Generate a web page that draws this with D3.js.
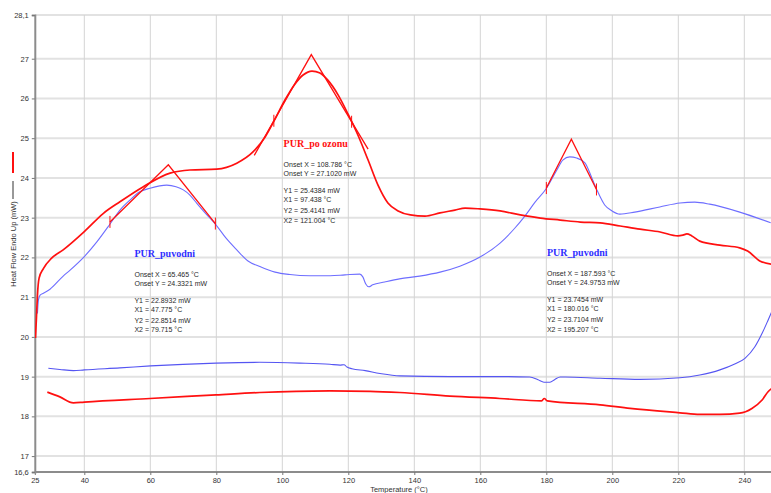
<!DOCTYPE html>
<html>
<head>
<meta charset="utf-8">
<script src="https://cdn.jsdelivr.net/npm/d3@7"></script>
<style>
  body { margin: 0; background: #fff; }
  svg { display: block; }
</style>
</head>
<body>
<svg id="chart" width="771" height="493"></svg>
<script>
// ---- DSC curves: temperature (°C) and heat flow (mW) ----
const ozonHeatT = [25.2, 25.5, 25.8, 26.3, 27.6, 30.1, 33.6, 40.0, 45.8, 50.8, 57.9, 66.0, 72.0, 80.1, 86.2, 91.2, 94.8, 97.8, 100.8, 103.8, 106.3, 109.0, 111.4, 113.8, 116.9, 119.9, 122.9, 126.0, 129.0, 132.0, 135.1, 138.8, 143.3, 147.8, 152.3, 155.4, 159.9, 166.0, 172.1, 178.2, 184.2, 190.3, 196.3, 202.4, 208.4, 214.5, 219.9, 221.4, 222.6, 224.1, 226.5, 232.6, 238.6, 241.0, 244.7, 248.3];
const ozonHeatY = [19.97, 20.48, 21.05, 21.48, 21.72, 21.98, 22.19, 22.65, 23.11, 23.40, 23.78, 24.12, 24.20, 24.22, 24.37, 24.66, 25.03, 25.48, 25.96, 26.36, 26.59, 26.69, 26.64, 26.46, 26.09, 25.61, 25.08, 24.45, 23.82, 23.37, 23.17, 23.07, 23.04, 23.12, 23.19, 23.24, 23.22, 23.17, 23.07, 22.99, 22.94, 22.89, 22.87, 22.79, 22.71, 22.64, 22.54, 22.56, 22.59, 22.54, 22.41, 22.31, 22.24, 22.16, 21.91, 21.83];

const puvHeatT = [25.8, 26.1, 26.6, 27.6, 29.6, 33.6, 35.7, 40.0, 43.8, 47.8, 50.8, 53.8, 56.8, 59.9, 65.0, 67.8, 70.0, 72.0, 74.1, 76.6, 79.9, 82.9, 86.2, 89.6, 93.2, 97.8, 102.3, 108.4, 114.5, 119.0, 123.5, 124.4, 125.3, 126.2, 127.4, 131.0, 135.5, 141.6, 147.8, 153.8, 159.9, 166.0, 170.5, 173.5, 176.6, 179.9, 183.2, 185.0, 187.1, 189.2, 191.7, 193.8, 195.6, 197.7, 199.9, 202.3, 206.8, 214.4, 220.5, 225.0, 229.5, 238.6, 248.0];
const puvHeatY = [20.59, 20.93, 21.05, 21.10, 21.20, 21.53, 21.68, 22.02, 22.39, 22.84, 23.19, 23.44, 23.65, 23.74, 23.82, 23.78, 23.70, 23.57, 23.36, 23.12, 22.82, 22.49, 22.19, 21.91, 21.77, 21.63, 21.57, 21.54, 21.54, 21.56, 21.58, 21.51, 21.33, 21.26, 21.31, 21.38, 21.46, 21.53, 21.63, 21.78, 22.01, 22.36, 22.74, 23.04, 23.39, 23.72, 24.20, 24.45, 24.53, 24.50, 24.38, 24.00, 23.65, 23.32, 23.17, 23.09, 23.14, 23.27, 23.37, 23.39, 23.34, 23.14, 22.87];

const puvBaseT = [29.1, 32.6, 36.7, 40.0, 50.8, 60.1, 79.9, 93.2, 105.3, 114.4, 117.5, 118.7, 119.6, 121.1, 125.1, 129.6, 135.6, 150.8, 165.9, 175.0, 177.5, 179.3, 181.1, 182.6, 184.2, 185.7, 196.3, 208.4, 220.5, 226.5, 232.6, 237.1, 240.2, 243.2, 245.4, 247.2, 248.4];
const puvBaseY = [19.21, 19.18, 19.15, 19.17, 19.22, 19.27, 19.34, 19.36, 19.34, 19.31, 19.29, 19.30, 19.24, 19.20, 19.15, 19.08, 19.02, 19.00, 19.00, 18.99, 18.92, 18.86, 18.86, 18.93, 18.99, 18.99, 18.96, 18.93, 18.97, 19.04, 19.17, 19.32, 19.46, 19.75, 20.09, 20.42, 20.65];

const ozonBaseT = [28.8, 32.6, 36.7, 40.0, 59.9, 79.9, 93.2, 114.4, 126.6, 135.6, 150.8, 165.9, 178.5, 179.4, 180.3, 196.3, 205.4, 220.5, 226.5, 232.6, 238.6, 242.3, 245.4, 247.2, 248.4];
const ozonBaseY = [18.61, 18.49, 18.34, 18.36, 18.45, 18.54, 18.60, 18.64, 18.63, 18.60, 18.51, 18.45, 18.39, 18.45, 18.39, 18.29, 18.20, 18.09, 18.05, 18.05, 18.08, 18.20, 18.41, 18.62, 18.71];

// ---- Peak onset analyses ----
const peakNames   = ["PUR_puvodni", "PUR_po ozonu", "PUR_puvodni"];
const peakOnsetX  = [65.465, 108.786, 187.593];
const peakOnsetY  = [24.3321, 27.1020, 24.9753];
const peakX1      = [47.775, 97.438, 180.016];
const peakY1      = [22.8932, 25.4384, 23.7454];
const peakX2      = [79.715, 121.004, 195.207];
const peakY2      = [22.8514, 25.4141, 23.7104];
// how far each tangent is drawn (°C)
const tangentFrom = [47.775, 91.5, 180.016];
const tangentTo   = [79.715, 126.0, 195.207];

// ---- Axis ticks ----
const xTickValues = [25, 40, 60, 80, 100, 120, 140, 160, 180, 200, 220, 240, 250];
const yTickValues = [16.6, 17, 18, 19, 20, 21, 22, 23, 24, 25, 26, 27, 28.1];

// ---- Layout ----
const svg = d3.select("#chart");
const x = d3.scaleLinear().domain([25, 250]).range([34.8, 777.3]);
const y = d3.scaleLinear().domain([16.6, 28.1]).range([472, 15]);

const RED = "#ff1010";
const BLUE_HEAT = "#6e6eff";
const BLUE_BASE = "#5555f2";
const TITLE_BLUE = "#2f2fff";
const TEXT = "#2a2a2a";

svg.append("defs").append("clipPath").attr("id", "plot")
  .append("rect").attr("x", 35).attr("y", 0).attr("width", 771 - 35).attr("height", 472);

// grid
const grid = svg.append("g");
grid.selectAll("line.h").data(yTickValues.filter(v => v > 16.6)).join("line")
  .attr("x1", x(25)).attr("x2", 771)
  .attr("y1", d => y(d)).attr("y2", d => y(d))
  .attr("stroke", "#e2e2e2").attr("stroke-width", 2);
grid.selectAll("line.v").data(xTickValues.filter(v => v > 25)).join("line")
  .attr("x1", d => x(d)).attr("x2", d => x(d))
  .attr("y1", y(28.1)).attr("y2", y(16.6))
  .attr("stroke", "#d4d4d4").attr("stroke-width", 1);

// axes
const fmtComma = d => String(d).replace(".", ",");
const xAxis = svg.append("g").attr("transform", `translate(0,${y(16.6)})`)
  .call(d3.axisBottom(x).tickValues(xTickValues).tickSize(3).tickPadding(3).tickFormat(d => String(d)));
const yAxis = svg.append("g").attr("transform", `translate(${x(25)},0)`)
  .call(d3.axisLeft(y).tickValues(yTickValues).tickSize(3).tickPadding(3).tickFormat(fmtComma));
[xAxis, yAxis].forEach(a => {
  a.select(".domain").attr("stroke", "#8c8c8c").attr("stroke-width", 2);
  a.selectAll(".tick line").attr("stroke", "#777");
  a.selectAll(".tick text").attr("fill", "#333")
    .style("font-family", "'Liberation Sans', Arial, sans-serif").style("font-size", "7.5px");
});
xAxis.select(".domain").attr("d", `M${x(25)},0H771`);

// axis titles
svg.append("text").attr("x", 399).attr("y", 492)
  .attr("text-anchor", "middle").attr("fill", "#333")
  .style("font-family", "'Liberation Sans', Arial, sans-serif").style("font-size", "7.5px")
  .text("Temperature (°C)");
svg.append("text").attr("transform", "translate(15.5,244) rotate(-90)")
  .attr("text-anchor", "middle").attr("fill", "#333")
  .style("font-family", "'Liberation Sans', Arial, sans-serif").style("font-size", "7.5px")
  .text("Heat Flow Endo Up (mW)");
svg.append("line").attr("x1", 13).attr("x2", 13).attr("y1", 181).attr("y2", 199)
  .attr("stroke", "#333").attr("stroke-width", 1);
svg.append("line").attr("x1", 13).attr("x2", 13).attr("y1", 152).attr("y2", 173)
  .attr("stroke", RED).attr("stroke-width", 2);

// curves
const plot = svg.append("g").attr("clip-path", "url(#plot)");
const line = d3.line().x(d => x(d[0])).y(d => y(d[1])).curve(d3.curveMonotoneX);
const zip = (a, b) => a.map((v, i) => [v, b[i]]);
const curves = [
  { pts: zip(puvBaseT, puvBaseY), color: BLUE_BASE, w: 1.1 },
  { pts: zip(ozonBaseT, ozonBaseY), color: RED, w: 1.7 },
  { pts: zip(puvHeatT, puvHeatY), color: BLUE_HEAT, w: 1.1 },
  { pts: zip(ozonHeatT, ozonHeatY), color: RED, w: 1.7 }
];
plot.selectAll("path.curve").data(curves).join("path")
  .attr("class", "curve").attr("d", d => line(d.pts))
  .attr("fill", "none").attr("stroke", d => d.color).attr("stroke-width", d => d.w)
  .attr("stroke-linejoin", "round");

// tangent construction for each onset
const tang = plot.append("g");
peakOnsetX.forEach((ox, i) => {
  const oy = peakOnsetY[i];
  const sL = (oy - peakY1[i]) / (ox - peakX1[i]);
  const sR = (peakY2[i] - oy) / (peakX2[i] - ox);
  const a = [tangentFrom[i], oy + sL * (tangentFrom[i] - ox)];
  const b = [tangentTo[i], oy + sR * (tangentTo[i] - ox)];
  tang.append("path")
    .attr("d", d3.line().x(d => x(d[0])).y(d => y(d[1]))([a, [ox, oy], b]))
    .attr("fill", "none").attr("stroke", RED).attr("stroke-width", 1.3);
  [[peakX1[i], peakY1[i]], [peakX2[i], peakY2[i]]].forEach(p => {
    tang.append("line")
      .attr("x1", x(p[0])).attr("x2", x(p[0]))
      .attr("y1", y(p[1]) - 6).attr("y2", y(p[1]) + 6)
      .attr("stroke", RED).attr("stroke-width", 1);
  });
});

// result blocks
const blockAnchorT = [55.2, 100.4, 180.2];
const blockAnchorY = [22.11, 24.87, 22.13];
const fmt3 = d3.format(".3f"), fmt4 = d3.format(".4f");
peakNames.forEach((name, i) => {
  const bx = x(blockAnchorT[i]), by = y(blockAnchorY[i]);
  const isRed = name === "PUR_po ozonu";
  svg.append("text").attr("x", bx).attr("y", by + 3.5)
    .attr("fill", isRed ? RED : TITLE_BLUE)
    .style("font-family", "'Liberation Serif', 'Times New Roman', serif")
    .style("font-weight", "bold").style("font-size", "10px")
    .text(name);
  const rows = [
    [21.5, `Onset X = ${fmt3(peakOnsetX[i])} °C`],
    [30.3, `Onset Y = ${fmt4(peakOnsetY[i])} mW`],
    [47.6, `Y1 = ${fmt4(peakY1[i])} mW`],
    [56.2, `X1 = ${fmt3(peakX1[i])} °C`],
    [67.0, `Y2 = ${fmt4(peakY2[i])} mW`],
    [76.8, `X2 = ${fmt3(peakX2[i])} °C`]
  ];
  rows.forEach(r => {
    svg.append("text").attr("x", bx).attr("y", by + r[0] + 2.5)
      .attr("fill", TEXT)
      .style("font-family", "'Liberation Sans', Arial, sans-serif").style("font-size", "7px")
      .text(r[1]);
  });
});
</script>
</body>
</html>
